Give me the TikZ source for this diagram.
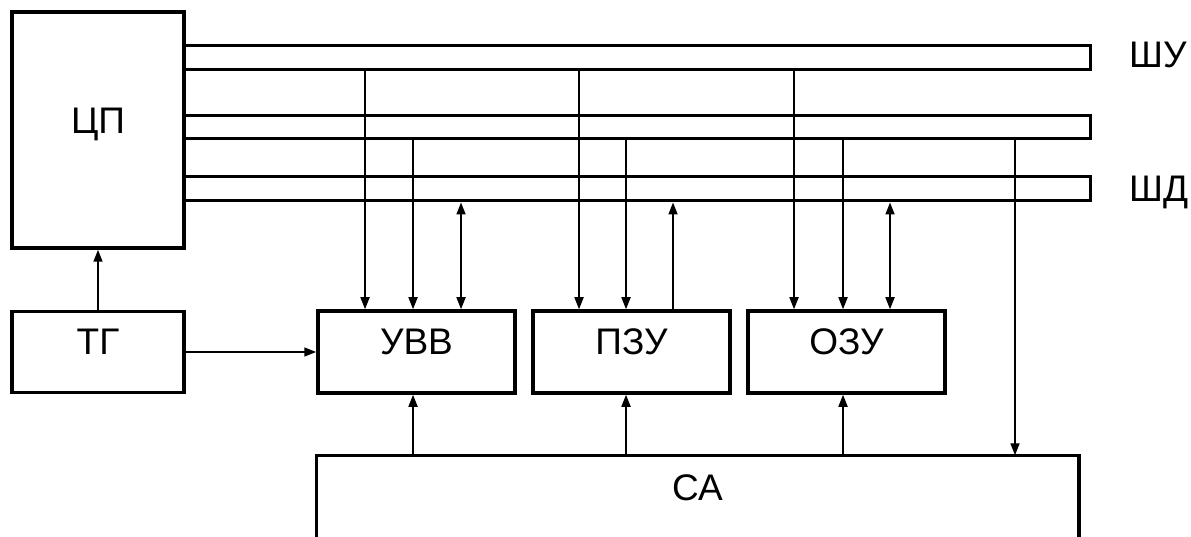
\documentclass[tikz,border=0pt]{standalone}
\usepackage{fontspec}
\setmainfont{Liberation Sans}
\usetikzlibrary{arrows.meta,positioning}

\begin{document}
\begin{tikzpicture}[
    x=1pt, y=-1pt,
    box/.style={rectangle, draw, line width=3.5pt, inner sep=0pt, text depth=20pt, font=\fontsize{37}{44}\selectfont},
    bus/.style={rectangle, draw, line width=3pt, inner sep=0pt, minimum width=906pt},
    lbl/.style={anchor=west, inner sep=0pt, font=\fontsize{37}{44}\selectfont},
    arrow/.style={-{Triangle[length=12pt,width=9pt]}, line width=1.7pt},
    arrow2/.style={{Triangle[length=12pt,width=9pt]}-{Triangle[length=12pt,width=9pt]}, line width=1.7pt}
]
\useasboundingbox (0,0) rectangle (1191,537);

% Processor and clock
\node[box, minimum width=172pt, minimum height=236pt, text depth=18pt] (cp) at (98,130) {ЦП};
\node[box, minimum width=172pt, minimum height=81pt] (tg) at (98,352) {ТГ};

% Buses
\node[bus, minimum height=24pt] (shu) at (637,58) {};
\node[bus, minimum height=23pt] (sha) at (637,127.5) {};
\node[bus, minimum height=24pt] (shd) at (637,189) {};
\node[lbl] (lshu) at (1129,55) {ШУ};
\node[lbl] (lshd) at (1129,192) {ШД};

% Devices
\node[box, minimum width=197pt, minimum height=82pt] (uvv) at (416.5,352) {УВВ};
\node[box, minimum width=197pt, minimum height=82pt] (pzu) at (631.5,352) {ПЗУ};
\node[box, minimum width=197pt, minimum height=82pt] (ozu) at (846.5,352) {ОЗУ};

% System controller (open at the bottom)
\node[box, draw=none, minimum width=759pt, minimum height=80pt, text depth=18pt] (ca) at (697.5,497) {СА};
\draw[line width=3.5pt] (ca.south west) -- (ca.north west) -- (ca.north east) -- (ca.south east);

% Arrows
\draw[arrow] (tg) -- (cp);
\draw[arrow] (tg.east) -- (uvv.west);

\draw[arrow] (shu.south -| 365,0) -- (uvv.north -| 365,0);
\draw[arrow] (sha.south -| 413,0) -- (uvv.north -| 413,0);
\draw[arrow2] (shd.south -| 461,0) -- (uvv.north -| 461,0);

\draw[arrow] (shu.south -| 579,0) -- (pzu.north -| 579,0);
\draw[arrow] (sha.south -| 626,0) -- (pzu.north -| 626,0);
\draw[arrow] (pzu.north -| 673,0) -- (shd.south -| 673,0);

\draw[arrow] (shu.south -| 794,0) -- (ozu.north -| 794,0);
\draw[arrow] (sha.south -| 843,0) -- (ozu.north -| 843,0);
\draw[arrow2] (shd.south -| 890,0) -- (ozu.north -| 890,0);

\draw[arrow] (sha.south -| 1015,0) -- (ca.north -| 1015,0);

\draw[arrow] (ca.north -| 413,0) -- (uvv.south -| 413,0);
\draw[arrow] (ca.north -| 626,0) -- (pzu.south -| 626,0);
\draw[arrow] (ca.north -| 843,0) -- (ozu.south -| 843,0);

\end{tikzpicture}
\end{document}
